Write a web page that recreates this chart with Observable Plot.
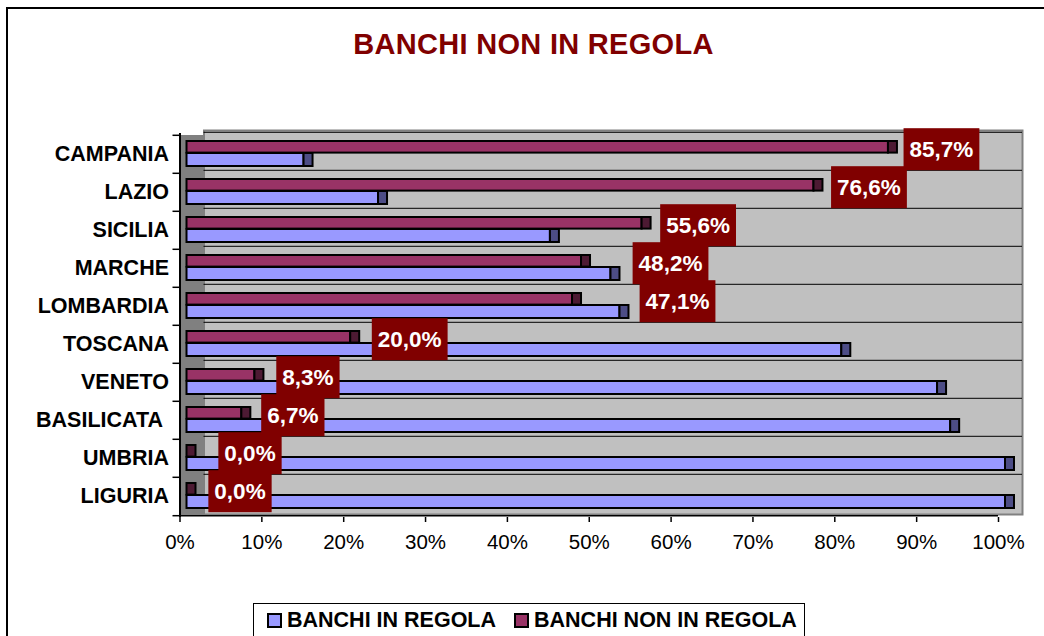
<!DOCTYPE html>
<html><head><meta charset="utf-8">
<script src="https://cdn.jsdelivr.net/npm/d3@7"></script>
<script src="https://cdn.jsdelivr.net/npm/@observablehq/plot@0.6"></script>
<style>
html,body{margin:0;padding:0;background:#fff;overflow:hidden;width:1044px;height:636px;}
body{position:relative;font-family:"Liberation Sans",Arial,sans-serif;}
#frame{position:absolute;left:6px;top:7px;width:1100px;height:700px;border:2px solid #000;box-sizing:border-box;}
#title{position:absolute;left:0;width:1067px;top:30px;text-align:center;font-size:29px;line-height:29px;font-weight:bold;letter-spacing:0.3px;color:#800000;white-space:nowrap;}
#chart{position:absolute;left:0;top:0;}
#legend{position:absolute;left:253px;top:603px;width:552px;height:60px;border:1px solid #000;box-sizing:border-box;background:#fff;}
#legend .row{display:flex;align-items:center;position:absolute;top:6px;left:13px;line-height:20px;white-space:nowrap;}
#legend .sw{width:15px;height:15px;border:2px solid #000;box-sizing:border-box;margin-right:5px;flex:none;}
#legend .lab{font-size:21.5px;font-weight:bold;color:#000;margin-right:18px;white-space:nowrap;}
</style></head>
<body>
<div id="frame"></div>
<div id="title">BANCHI NON IN REGOLA</div>
<div id="chart"></div>
<div id="legend"><div class="row" id="legrow"></div></div>
<script>
const categories = ["CAMPANIA","LAZIO","SICILIA","MARCHE","LOMBARDIA","TOSCANA","VENETO","BASILICATA ","UMBRIA","LIGURIA"];
const inRegola = [14.3,23.4,44.4,51.8,52.9,80.0,91.7,93.3,100.0,100.0];
const nonInRegola = [85.7,76.6,55.6,48.2,47.1,20.0,8.3,6.7,0.0,0.0];
const seriesNames = ["BANCHI IN REGOLA","BANCHI NON IN REGOLA"];
const seriesColors = ["#9999FF","#993366"];
const capColors = ["#4D4D86","#4D1A33"];
const xTicks = [0,10,20,30,40,50,60,70,80,90,100];
// manual label nudges (px), as dragged in the original chart
const labelNudge = [0,2,3,36,52,6,0,-2,10,0];

const blue = categories.map((c,i)=>({cat:c, series:seriesNames[0], value:inRegola[i]}));
const red = categories.map((c,i)=>({cat:c, series:seriesNames[1], value:nonInRegola[i]}));
const fmt = v => d3.format(".1f")(v).replace(".", ",") + "%";

const top0 = 133, bot0 = 517;
const bw = (bot0 - top0) / categories.length;
const font = '"Liberation Sans", Arial, sans-serif';

const svg = Plot.plot({
  width: 1044, height: 580,
  marginLeft: 179.5, marginRight: 46, marginTop: top0, marginBottom: 580 - bot0,
  x: {domain: [0, 100]},
  y: {domain: categories, padding: 0},
  style: {fontFamily: font, background: "transparent", color: "#000"},
  marks: [
    Plot.frame({fill: "#C0C0C0", stroke: "#808080", strokeWidth: 2, dx: 24, dy: -3}),
    Plot.barX(categories, {y: d => d, x1: 0, x2: 0, insetRight: -24, fill: "#808080"}),
    Plot.ruleY(categories, {y: d => d, x1: 0, x2: 100, dx: 24, dy: -bw/2 - 3, stroke: "#000", strokeWidth: 1}),
    // non in regola
    Plot.barX(red, {y: "cat", x1: 0, x2: "value", dx: 7, insetTop: 6, insetBottom: bw - 18, fill: seriesColors[1], stroke: "#000", strokeWidth: 2}),
    Plot.barX(red, {y: "cat", x1: "value", x2: "value", dx: 7, insetRight: -9, insetTop: 6, insetBottom: bw - 18, fill: capColors[1], stroke: "#000", strokeWidth: 2}),
    // in regola
    Plot.barX(blue, {y: "cat", x1: 0, x2: "value", dx: 7, insetTop: 18, insetBottom: 7, fill: seriesColors[0], stroke: "#000", strokeWidth: 2}),
    Plot.barX(blue, {y: "cat", x1: "value", x2: "value", dx: 7, insetRight: -9, insetTop: 18, insetBottom: 7, fill: capColors[0], stroke: "#000", strokeWidth: 2}),
    // axes
    Plot.ruleX([0], {stroke: "#000", strokeWidth: 2}),
    Plot.ruleY([categories[categories.length-1]], {y: d => d, x1: 0, x2: 100, dy: bw/2, stroke: "#000", strokeWidth: 1.5}),
    Plot.axisY({tickSize: 0, tickPadding: 11, fontSize: 21.5, fontWeight: "bold", label: null, tickFormat: d => d.replace(/ $/, "\u00a0")}),
    Plot.axisY({tickSize: 7, tickFormat: () => "", label: null, dy: -bw/2, strokeWidth: 1.5}),
    Plot.axisY([categories[categories.length-1]], {tickSize: 7, tickFormat: () => "", label: null, dy: bw/2, strokeWidth: 1.5}),
    Plot.axisX({ticks: xTicks, tickSize: 5, tickPadding: 12, tickFormat: d => d + "%", fontSize: 20.5, label: null, strokeWidth: 1.5}),
    // labels
    Plot.text(red, {y: "cat", x: "value", text: d => fmt(d.value), dx: 60, dy: -5, fill: "#fff", fontWeight: "bold", fontSize: 22.5, textAnchor: "middle"})
  ]
});
document.getElementById("chart").append(svg);

// label boxes
const ns = "http://www.w3.org/2000/svg";
svg.querySelectorAll('g[aria-label="text"] text').forEach((t, i) => {
  const b = t.getBBox();
  const cy = b.y + b.height / 2;
  const r = document.createElementNS(ns, "rect");
  r.setAttribute("x", b.x - 6);
  r.setAttribute("width", b.width + 12);
  r.setAttribute("y", cy - 21);
  r.setAttribute("height", 42);
  r.setAttribute("fill", "#800000");
  const tr = `translate(${labelNudge[i] || 0},0) ` + (t.getAttribute("transform") || "");
  r.setAttribute("transform", tr);
  t.setAttribute("transform", tr);
  t.parentNode.insertBefore(r, t);
});

// legend
const legrow = document.getElementById("legrow");
seriesNames.forEach((s, i) => {
  const sw = document.createElement("div"); sw.className = "sw"; sw.style.background = seriesColors[i];
  const lab = document.createElement("div"); lab.className = "lab"; lab.textContent = s;
  legrow.append(sw, lab);
});
</script>
</body></html>
